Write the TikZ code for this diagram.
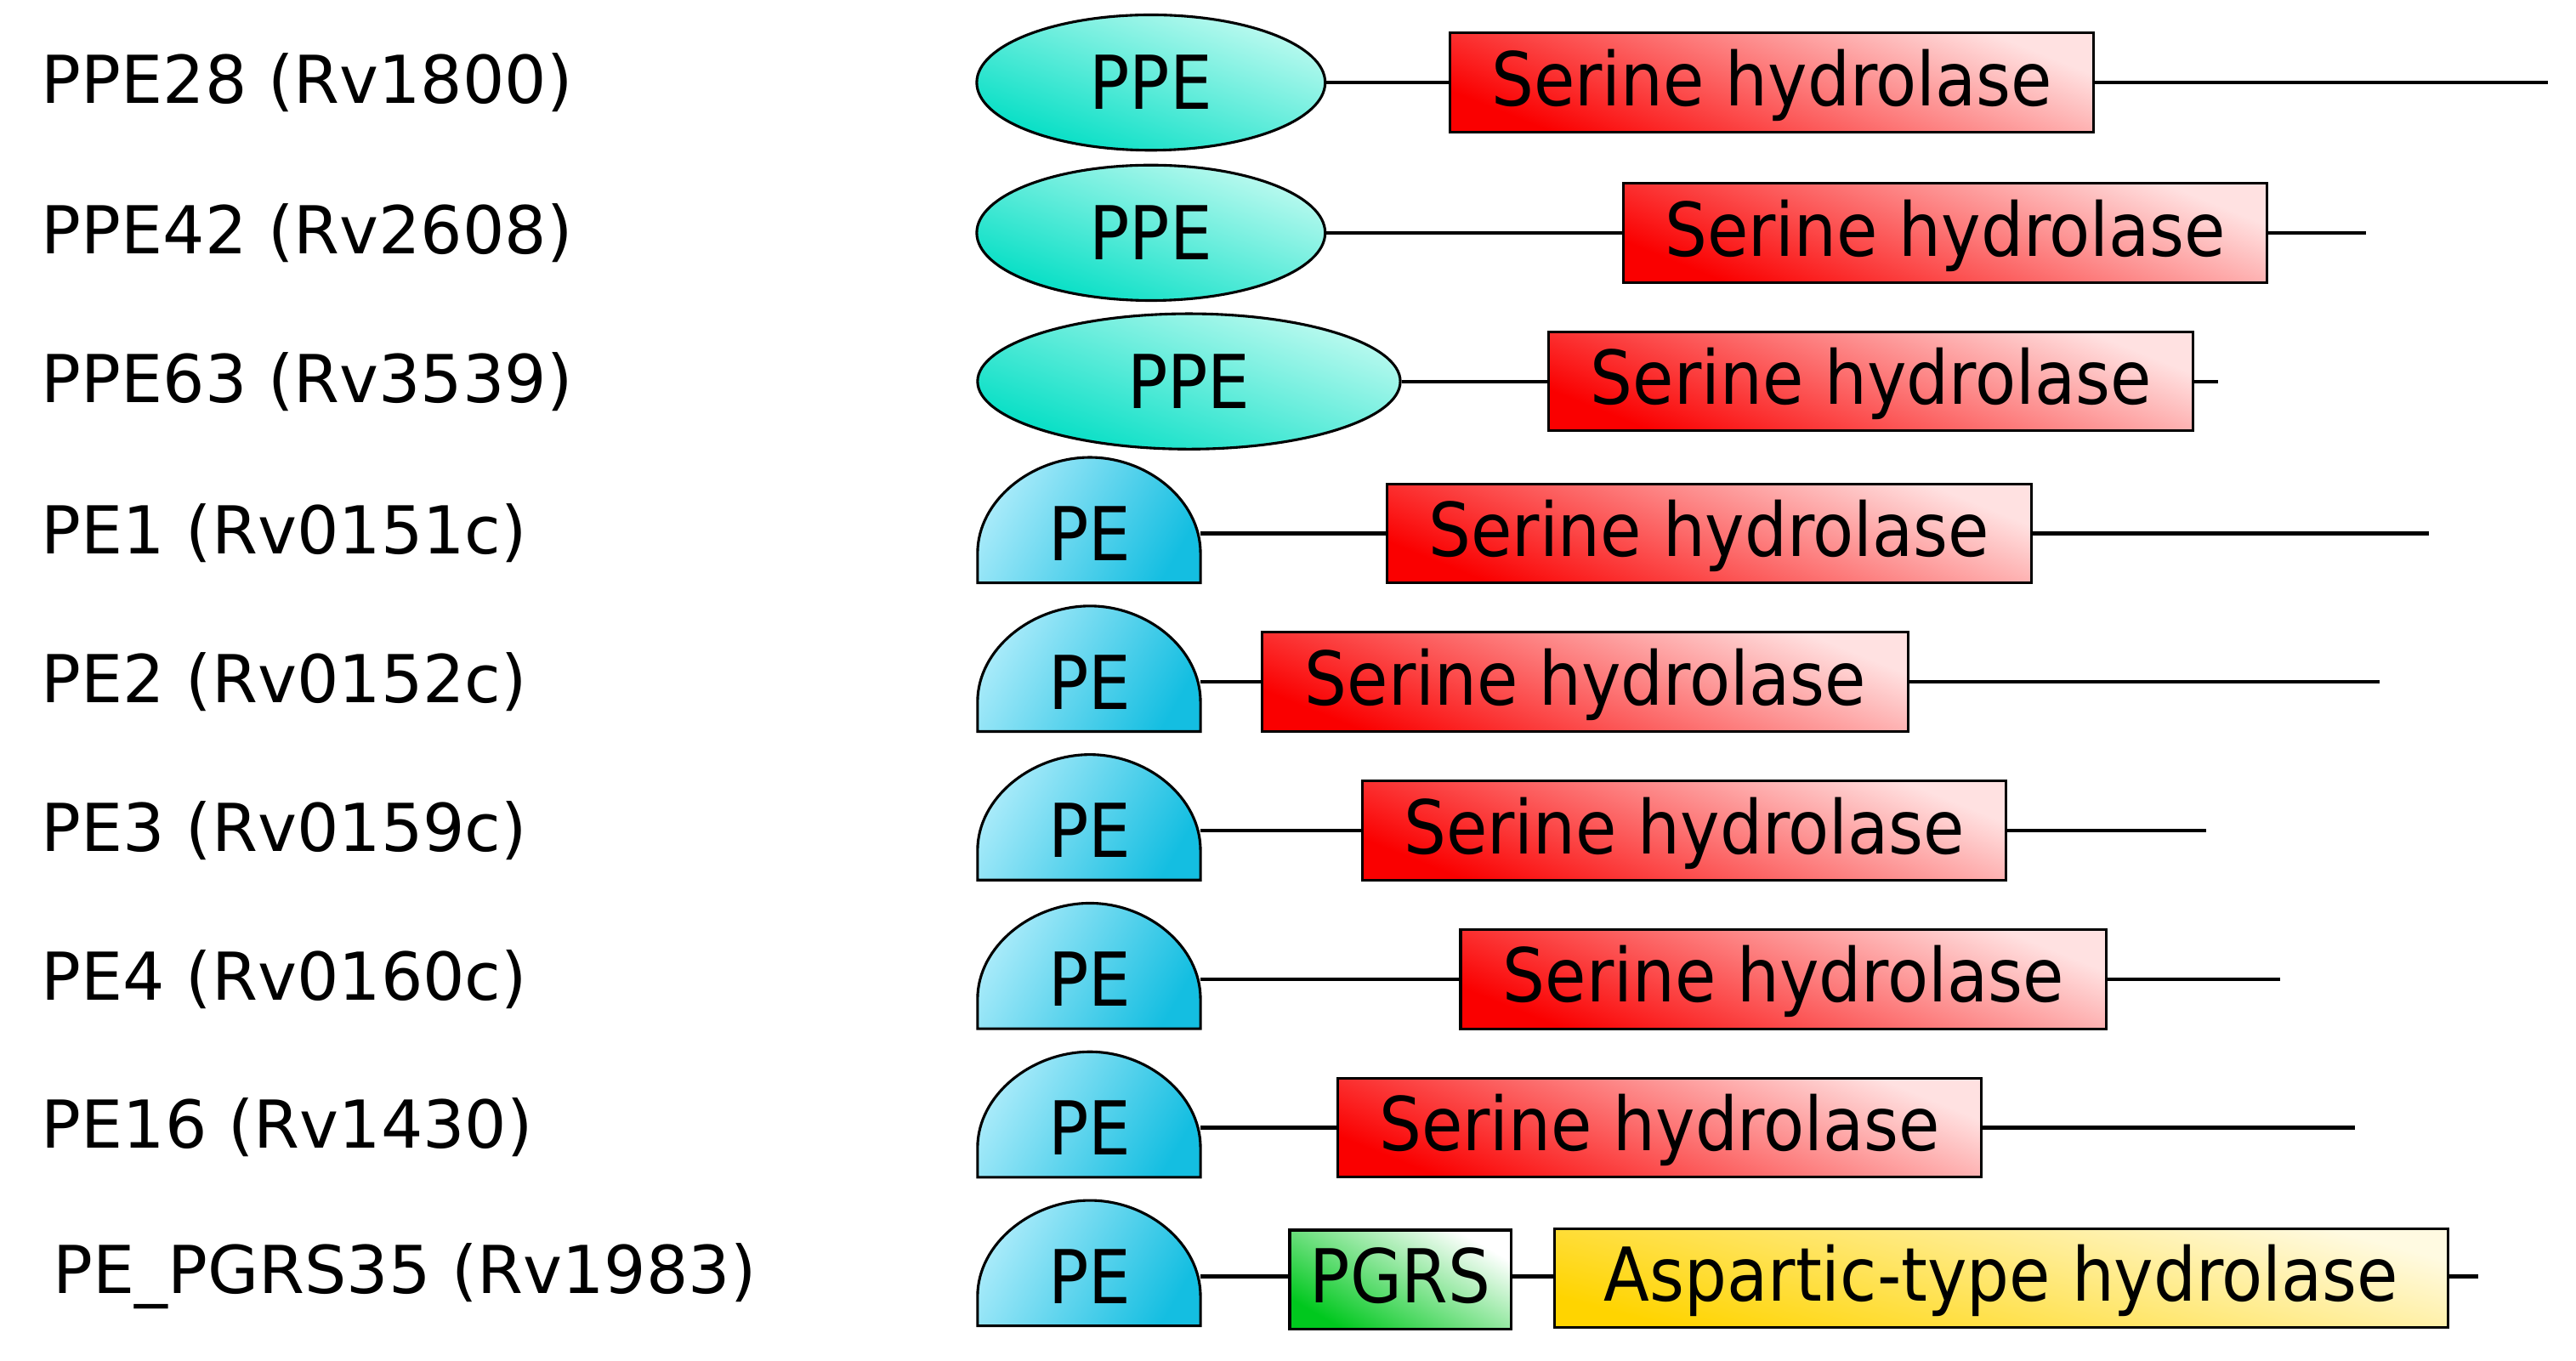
\documentclass[tikz,border=0pt]{standalone}
\usepackage{fontspec}
\usetikzlibrary{shapes.geometric}
\setmainfont{DejaVu Sans}
\newfontfamily\cond{DejaVu Sans Condensed}
\definecolor{teal1}{RGB}{0,222,196}
\definecolor{teal2}{RGB}{190,250,240}
\definecolor{pe1}{RGB}{20,190,225}
\definecolor{pe2}{RGB}{170,235,250}
\definecolor{red1}{RGB}{250,0,0}
\definecolor{red2}{RGB}{255,225,225}
\definecolor{yel1}{RGB}{255,212,0}
\definecolor{yel2}{RGB}{255,250,225}
\definecolor{grn1}{RGB}{0,200,30}
\begin{document}
\begin{tikzpicture}[x=1pt,y=-1pt,
  lab/.style={anchor=west,inner sep=0pt,font=\fontsize{40}{40}\selectfont},
  dom/.style={draw=black,line width=1.6pt,minimum height=60pt,inner sep=0pt,font=\cond\fontsize{45}{45}\selectfont,text height=32pt,text depth=4pt},
  ser/.style={dom,shading=axis,top color=red2,bottom color=red1,shading angle=-22},
  ppe/.style={draw=black,line width=1.6pt,ellipse,inner sep=0pt,minimum height=82pt,shading=axis,top color=teal1,bottom color=teal2,shading angle=160,font=\cond\fontsize{45}{45}\selectfont},
  ln/.style={line width=2.2pt}]
\useasboundingbox (0,0) rectangle (1560,824);
\newcommand{\pedomeat}[2]{%
  \draw[line width=1.6pt,shading=axis,top color=pe2,bottom color=pe1,shading angle=60]
    (592,#1+30) -- (592,#1+12) .. controls (592,#1-20) and (625,#1-46) .. (660,#1-46)
    .. controls (695,#1-46) and (727,#1-20) .. (727,#1+12) -- (727,#1+30) -- cycle;
  \node[font=\cond\fontsize{45}{45}\selectfont] (#2) at (660,#1) {PE};
  \coordinate (#2e) at (727,#1);}
% labels
\node[lab] (l1) at (25,50) {PPE28 (Rv1800)};
\node[lab] (l2) at (25,141) {PPE42 (Rv2608)};
\node[lab] (l3) at (25,231) {PPE63 (Rv3539)};
\node[lab] (l4) at (25,323) {PE1 (Rv0151c)};
\node[lab] (l5) at (25,413) {PE2 (Rv0152c)};
\node[lab] (l6) at (25,503) {PE3 (Rv0159c)};
\node[lab] (l7) at (25,593) {PE4 (Rv0160c)};
\node[lab] (l8) at (25,683) {PE16 (Rv1430)};
\node[lab] (l9) at (32,773) {PE\_PGRS35 (Rv1983)};
% PPE rows
\node[ppe,minimum width=211pt] (p1) at (697,50) {PPE};
\node[ppe,minimum width=211pt] (p2) at (697,141) {PPE};
\node[ppe,minimum width=256pt] (p3) at (720,231) {PPE};
\coordinate (e1) at (1543,50); \coordinate (e2) at (1433,141); \coordinate (e3) at (1343,231);
\draw[ln] (p1.east) -- (e1); \draw[ln] (p2.east) -- (e2); \draw[ln] (p3.east) -- (e3);
\node[ser,minimum width=390pt] (s1) at (1073,50) {Serine hydrolase};
\node[ser,minimum width=390pt] (s2) at (1178,141) {Serine hydrolase};
\node[ser,minimum width=390pt] (s3) at (1133,231) {Serine hydrolase};
% PE rows
\pedomeat{323}{q4}\pedomeat{413}{q5}\pedomeat{503}{q6}\pedomeat{593}{q7}\pedomeat{683}{q8}\pedomeat{773}{q9}
\coordinate (e4) at (1471,323); \coordinate (e5) at (1441,413); \coordinate (e6) at (1336,503);
\coordinate (e7) at (1381,593); \coordinate (e8) at (1426,683); \coordinate (e9) at (1501,773);
\draw[ln] (q4e) -- (e4); \draw[ln] (q5e) -- (e5); \draw[ln] (q6e) -- (e6);
\draw[ln] (q7e) -- (e7); \draw[ln] (q8e) -- (e8); \draw[ln] (q9e) -- (e9);
\node[ser,minimum width=390pt] (s4) at (1035,323) {Serine hydrolase};
\node[ser,minimum width=391pt] (s5) at (960,413) {Serine hydrolase};
\node[ser,minimum width=390pt] (s6) at (1020,503) {Serine hydrolase};
\node[ser,minimum width=391pt] (s7) at (1080,593) {Serine hydrolase};
\node[ser,minimum width=390pt] (s8) at (1005,683) {Serine hydrolase};
\node[dom,minimum width=134pt,minimum height=60pt,shading=axis,top color=white,bottom color=grn1,shading angle=-30] (g9) at (848,775) {PGRS};
\node[dom,minimum width=541pt,shading=axis,top color=yel2,bottom color=yel1,shading angle=-15] (a9) at (1212,774) {Aspartic-type hydrolase};
\end{tikzpicture}
\end{document}
